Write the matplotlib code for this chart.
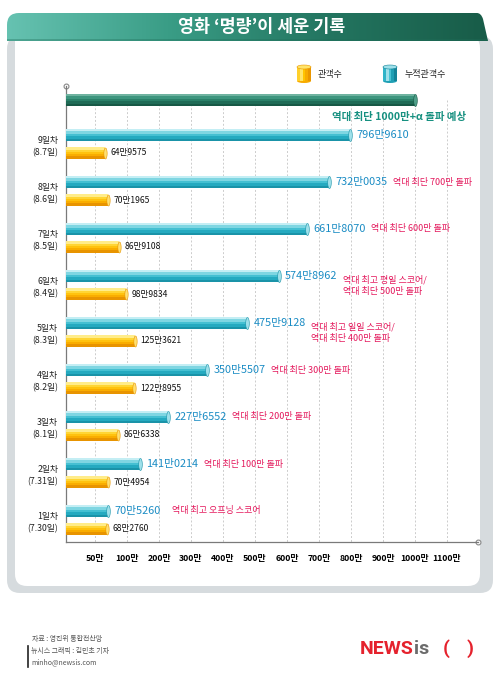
import numpy as np
import matplotlib
matplotlib.use("Agg")
import matplotlib.pyplot as plt
from matplotlib.patches import FancyBboxPatch, Rectangle, Ellipse, PathPatch
from matplotlib.path import Path
from matplotlib.colors import LinearSegmentedColormap

plt.rcParams['font.family'] = ['Noto Sans CJK KR', 'DejaVu Sans']

# données (관객수, 누적관객수)
jours = ["1일차", "2일차", "3일차", "4일차", "5일차", "6일차", "7일차", "8일차", "9일차"]
dates = ["7.30일", "7.31일", "8.1일", "8.2일", "8.3일", "8.4일", "8.5일", "8.6일", "8.7일"]
quotidien = [682760, 704954, 866338, 1228955, 1253621, 989834, 869108, 701965, 649575]
cumul = [705260, 1410214, 2276552, 3505507, 4759128, 5748962, 6618070, 7320035, 7969610]
notes = ["역대 최고 오프닝 스코어", "역대 최단 100만 돌파", "역대 최단 200만 돌파",
         "역대 최단 300만 돌파", "역대 최고 일일 스코어/\n역대 최단 400만 돌파",
         "역대 최고 평일 스코어/\n역대 최단 500만 돌파", "역대 최단 600만 돌파",
         "역대 최단 700만 돌파", ""]
objectif = 1000  # 만
ticks = [50, 100, 200, 300, 400, 500, 600, 700, 800, 900, 1000, 1100]

# couleurs
CYAN = ['#c4eef4', '#7fd6e2', '#45c0d2', '#25aac0', '#1a93a8']
ORANGE = ['#ffec8a', '#ffd534', '#ffc20e', '#f9ad00', '#e89400']
VERT = ['#6fb3a0', '#3d957e', '#2a8068', '#1f6b56', '#175845']
BLEU_TXT = '#1a8cc4'
ROSE_TXT = '#e4185c'


# échelle : 0-100만 étirée x2, ensuite linéaire
def fwd(x):
    x = np.asarray(x, dtype=float)
    return np.where(x <= 100, 2 * x, x + 100)


def inv(u):
    u = np.asarray(u, dtype=float)
    return np.where(u <= 200, u / 2, u - 100)


def man(v):
    return f"{v // 10000}만{v % 10000:04d}"


fig = plt.figure(figsize=(5, 6.77), dpi=100)

# fond en pixels
bg = fig.add_axes([0, 0, 1, 1])
bg.set_zorder(0)
bg.axis('off')

bg.add_patch(FancyBboxPatch((7, 36), 486, 557, boxstyle="round,pad=0,rounding_size=13",
                            fc='#d6dbde', ec='none'))
bg.add_patch(FancyBboxPatch((15, 36), 465, 550, boxstyle="round,pad=0,rounding_size=12",
                            fc='white', ec='none'))
bg.add_patch(Rectangle((15, 36), 30, 30, fc='white', ec='none'))

# bandeau du titre
verts = [(7, 41), (7, 25), (7, 13), (19, 13), (477, 13), (481, 13), (483, 19), (488, 41), (7, 41)]
codes = [Path.MOVETO, Path.LINETO, Path.CURVE3, Path.CURVE3, Path.LINETO,
         Path.CURVE3, Path.CURVE3, Path.LINETO, Path.CLOSEPOLY]
forme = PathPatch(Path(verts, codes), fc='none', ec='none', transform=bg.transData)
bg.add_patch(forme)
cmap = LinearSegmentedColormap.from_list('bandeau', ['#66c2b1', '#3a9d86', '#237560', '#185c48'])
grad = np.linspace(0, 1, 256).reshape(1, -1)
im = bg.imshow(grad, extent=[7, 488, 41, 13], aspect='auto', cmap=cmap, zorder=2)
im.set_clip_path(forme)
bg.add_patch(Rectangle((7, 39), 481, 2, fc='#1f6e59', ec='none', alpha=0.35, zorder=3))
bg.text(262, 27, "영화 ‘명량’이 세운 기록", color='white', fontsize=12.5, fontweight='bold',
        ha='center', va='center', zorder=4)


# légende : petits cylindres
def cylindre(x, y, w, h, couleurs):
    n = len(couleurs)
    for k, c in enumerate(couleurs):
        bg.add_patch(Rectangle((x + k * w / n, y), w / n + 0.3, h, fc=c, ec='none', zorder=3))
    bg.add_patch(Ellipse((x + w / 2, y), w, 4, fc=couleurs[1], ec=couleurs[-1], lw=0.4, zorder=4))
    bg.add_patch(Ellipse((x + w / 2, y + h), w, 4, fc=couleurs[-2], ec='none', zorder=2))


cylindre(297, 67, 14, 14, ['#ffd02a', '#ffe46a', '#ffc400', '#f7ab00', '#e99600'])
cylindre(383, 67, 14, 14, ['#2fb4c8', '#9fe0ea', '#48c2d3', '#1f9fb4', '#138398'])
bg.text(318, 74, "관객수", fontsize=6.5, va='center', color='#222222')
bg.text(405, 74, "누적관객수", fontsize=6.5, va='center', color='#222222')

# pied de page
bg.text(32, 639, "자료 : 영진위 통합전산망", fontsize=5, color='#555555', va='center')
bg.text(31, 651, "뉴시스 그래픽 : 김민초 기자", fontsize=5, color='#555555', va='center')
bg.text(31, 662, "minho@newsis.com", fontsize=5, color='#555555', va='center')
bg.plot([28, 28], [646, 667], color='#222222', lw=1.2)

# logo NEWSis( )
logo = dict(family=['Roboto', 'DejaVu Sans'], fontweight='bold', fontsize=14, va='baseline')
bg.text(360, 654, "NEWS", color='#e5222d', **logo)
bg.text(414, 654, "is", color='#6b6b6b', **logo)
bg.text(443, 654, "(", color='#e5222d', **logo)
bg.text(467, 654, ")", color='#e5222d', **logo)

bg.set_xlim(0, 500)
bg.set_ylim(677, 0)

# graphique principal (y en pixels)
ax = fig.add_axes([66 / 500, 1 - 542 / 677, 412 / 500, 456 / 677])
ax.set_zorder(1)
ax.patch.set_alpha(0)
ax.set_xscale('function', functions=(fwd, inv))
ax.set_xlim(float(inv(9.4)), float(inv(1297)))
ax.set_ylim(542, 86)

pas = 47
y0 = 511
y_cumul = [y0 - pas * i for i in range(len(jours))]
y_jour = [y + 18 for y in y_cumul]
y_obj = y_cumul[-1] - 35


def tube(y, longueur, h, couleurs, cap):
    n = len(couleurs)
    for k, c in enumerate(couleurs):
        ax.barh(y - h / 2 + (k + 0.5) * h / n, longueur, height=h / n + 0.15,
                left=0, color=c, edgecolor='none', zorder=3)
    t = np.linspace(0, 2 * np.pi, 40)
    ell = np.column_stack([0.3 * np.cos(t), np.sin(t)])
    ax.scatter([longueur], [y], marker=ell, s=(h * 0.72) ** 2, color=cap,
               edgecolors=couleurs[-1], linewidths=0.4, zorder=4)


ax.vlines(ticks, y_obj, 542, colors='#cccccc', linestyles=(0, (2, 2)), lw=0.7, zorder=1)

tube(y_obj, objectif, 12, VERT, '#4f9f89')
ax.annotate("역대 최단 1000만+α 돌파 예상", xy=(objectif, y_obj), xytext=(37, -12),
            textcoords='offset points', ha='right', va='center', color='#169080',
            fontsize=7.5, fontweight='bold')

for i in range(len(jours)):
    c = cumul[i] / 10000
    d = quotidien[i] / 10000
    tube(y_cumul[i], c, 12, CYAN, '#9ee0ea')
    tube(y_jour[i], d, 11, ORANGE, '#ffe070')
    ax.annotate(man(cumul[i]), xy=(c, y_cumul[i]), xytext=(4.5, 0), textcoords='offset points',
                va='center', color=BLEU_TXT, fontsize=7.8)
    ax.annotate(man(quotidien[i]), xy=(d, y_jour[i]), xytext=(4, 0), textcoords='offset points',
                va='center', color='#111111', fontsize=6.2)
    if notes[i]:
        dy = 6.5 if "\n" in notes[i] else 0
        ax.annotate(notes[i], xy=(c, y_cumul[i]), xytext=(46, -dy), textcoords='offset points',
                    va='center', ha='left', color=ROSE_TXT, fontsize=6.5, linespacing=1.35)
    bg.text(58, y_cumul[i] + 12, f"{jours[i]}\n({dates[i]})", ha='right', va='center',
            fontsize=6.3, color='#222222', linespacing=1.45)

ax.set_yticks([])
ax.set_xticks(ticks)
ax.set_xticklabels([f"{v}만" for v in ticks], fontsize=6.3, fontweight='bold')
ax.tick_params(axis='x', length=0, pad=9)
for s in ['top', 'right']:
    ax.spines[s].set_visible(False)
for s in ['left', 'bottom']:
    ax.spines[s].set_color('#7a7a7a')
    ax.spines[s].set_linewidth(0.9)

bg.plot([66], [86], marker='o', ms=3.5, mfc='white', mec='#888888', mew=0.8, zorder=5)
bg.plot([478], [542], marker='o', ms=3.5, mfc='white', mec='#888888', mew=0.8, zorder=5)

fig.savefig("out.png", dpi=100)
